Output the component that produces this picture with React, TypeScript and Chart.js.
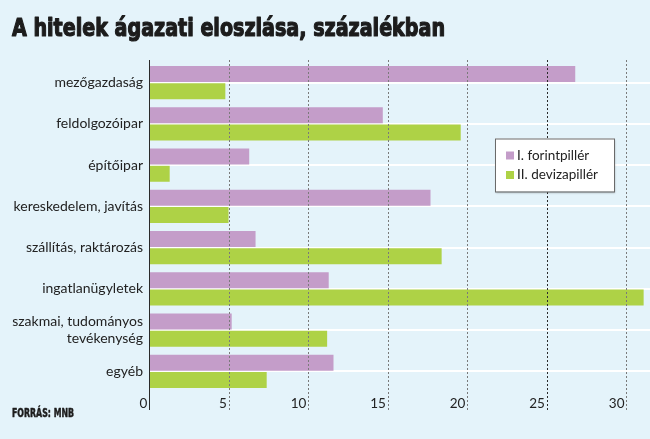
import { useEffect, useRef } from 'react';
import { Chart, registerables } from 'chart.js';

Chart.register(...registerables);

// Sectors, top to bottom
const categories: (string | string[])[] = [
  'mezőgazdaság',
  'feldolgozóipar',
  'építőipar',
  'kereskedelem, javítás',
  'szállítás, raktározás',
  'ingatlanügyletek',
  ['szakmai, tudományos', 'tevékenység'],
  'egyéb',
];

// Share of loans by sector, per cent
const forintValues = [26.8, 14.7, 6.3, 17.7, 6.7, 11.3, 5.2, 11.6];
const devizaValues = [4.8, 19.6, 1.3, 5.0, 18.4, 31.1, 11.2, 7.4];

const seriesNames = ['I. forintpillér', 'II. devizapillér'];
const xTickStep = 5;
const xMax = 31.5;

const titleText = 'A hitelek ágazati eloszlása, százalékban';
const sourceText = 'FORRÁS: MNB';

const BG = '#e4f3fa';
const PURPLE = '#c49dc9';
const GREEN = '#aed246';
const LABEL_FONT = 'Lato, "Open Sans", sans-serif';
const HEAVY_FONT = '"DejaVu Sans Condensed", "DejaVu Sans", sans-serif';

const backgroundPlugin = {
  id: 'pageBackground',
  beforeDraw(chart: Chart) {
    const { ctx, width, height } = chart;
    ctx.save();
    ctx.fillStyle = BG;
    ctx.fillRect(0, 0, width, height);
    ctx.restore();
  },
};

// Dotted value guides over the bars, plus the solid zero axis
const guidesPlugin = {
  id: 'valueGuides',
  afterDatasetsDraw(chart: Chart) {
    const { ctx, chartArea } = chart;
    const xScale = chart.scales.x;
    const top = chartArea.top - 2;
    const bottom = chartArea.bottom + 18;
    ctx.save();
    xScale.ticks.forEach((tick) => {
      const px = Math.round(xScale.getPixelForValue(tick.value)) + 0.5;
      ctx.beginPath();
      if (tick.value === 0) {
        ctx.setLineDash([]);
        ctx.strokeStyle = '#2a2a2a';
      } else {
        ctx.setLineDash([2, 2]);
        ctx.strokeStyle = tick.value === 25 ? '#2a2a2a' : '#7a7a7a';
      }
      ctx.lineWidth = 1;
      ctx.moveTo(px, top);
      ctx.lineTo(px, bottom);
      ctx.stroke();
    });
    ctx.restore();
  },
};

const legendBoxPlugin = {
  id: 'legendBox',
  afterDraw(chart: Chart) {
    const { ctx } = chart;
    const x = 495;
    const y = 138.5;
    const w = 119;
    const h = 53;
    ctx.save();
    ctx.shadowColor = 'rgba(0,0,0,0.25)';
    ctx.shadowBlur = 2;
    ctx.shadowOffsetX = 1;
    ctx.shadowOffsetY = 1;
    ctx.fillStyle = '#ffffff';
    ctx.fillRect(x, y, w, h);
    ctx.shadowColor = 'transparent';
    ctx.strokeStyle = '#6a6a6a';
    ctx.lineWidth = 1;
    ctx.strokeRect(x + 0.5, y + 0.5, w, h);
    ctx.font = `13.5px ${LABEL_FONT}`;
    ctx.textBaseline = 'middle';
    chart.data.datasets.forEach((ds, i) => {
      const cy = y + 17 + i * 19.5;
      ctx.fillStyle = ds.backgroundColor as string;
      ctx.fillRect(x + 11, cy - 4, 8, 8);
      ctx.fillStyle = '#222222';
      ctx.fillText(ds.label as string, x + 22, cy);
    });
    ctx.restore();
  },
};

const captionPlugin = {
  id: 'captions',
  afterDraw(chart: Chart) {
    const { ctx } = chart;
    ctx.save();
    ctx.fillStyle = '#1c1c1c';
    ctx.strokeStyle = '#1c1c1c';
    ctx.lineJoin = 'round';
    ctx.textBaseline = 'alphabetic';
    ctx.textAlign = 'left';
    ctx.font = `bold 25px ${HEAVY_FONT}`;
    ctx.lineWidth = 1.2;
    ctx.fillText(titleText, 12, 36, 433);
    ctx.strokeText(titleText, 12, 36, 433);
    ctx.font = `bold 12px ${HEAVY_FONT}`;
    ctx.lineWidth = 0.5;
    ctx.fillText(sourceText, 12, 417, 62);
    ctx.strokeText(sourceText, 12, 417, 62);
    ctx.restore();
  },
};

export default function App() {
  const canvasRef = useRef<HTMLCanvasElement | null>(null);

  useEffect(() => {
    document.body.style.margin = '0';
    document.body.style.background = BG;
    const canvas = canvasRef.current;
    if (!canvas) return;

    const chart = new Chart(canvas, {
      type: 'bar',
      data: {
        labels: categories,
        datasets: [
          {
            label: seriesNames[0],
            data: forintValues,
            backgroundColor: PURPLE,
            borderWidth: 0,
            categoryPercentage: 0.84,
            barPercentage: 0.92,
          },
          {
            label: seriesNames[1],
            data: devizaValues,
            backgroundColor: GREEN,
            borderWidth: 0,
            categoryPercentage: 0.84,
            barPercentage: 0.92,
          },
        ],
      },
      options: {
        indexAxis: 'y',
        responsive: false,
        animation: false,
        devicePixelRatio: 1,
        layout: { padding: { top: 62, left: 0, right: 0, bottom: 0 } },
        plugins: {
          legend: { display: false },
          title: { display: false },
          tooltip: { enabled: false },
        },
        scales: {
          x: {
            type: 'linear',
            min: 0,
            max: xMax,
            grid: { display: false, drawTicks: false },
            border: { display: false },
            ticks: {
              stepSize: xTickStep,
              includeBounds: false,
              align: 'end',
              padding: 4,
              color: '#222222',
              font: { family: LABEL_FONT, size: 13.5 },
              callback: (v) => `${v}\u2009`,
            },
            afterFit: (scale) => {
              scale.height = 47;
            },
          },
          y: {
            type: 'category',
            grid: {
              color: '#ffffff',
              lineWidth: 2,
              offset: false,
              drawTicks: false,
            },
            border: { display: false },
            ticks: {
              padding: 6,
              color: '#222222',
              font: { family: LABEL_FONT, size: 14, lineHeight: 1.25 },
            },
            afterFit: (scale) => {
              scale.width = 149;
            },
          },
        },
      },
      plugins: [backgroundPlugin, guidesPlugin, legendBoxPlugin, captionPlugin],
    });

    return () => chart.destroy();
  }, []);

  return (
    <div style={{ width: 650, height: 439, background: BG }}>
      <canvas ref={canvasRef} width={650} height={439} />
    </div>
  );
}
